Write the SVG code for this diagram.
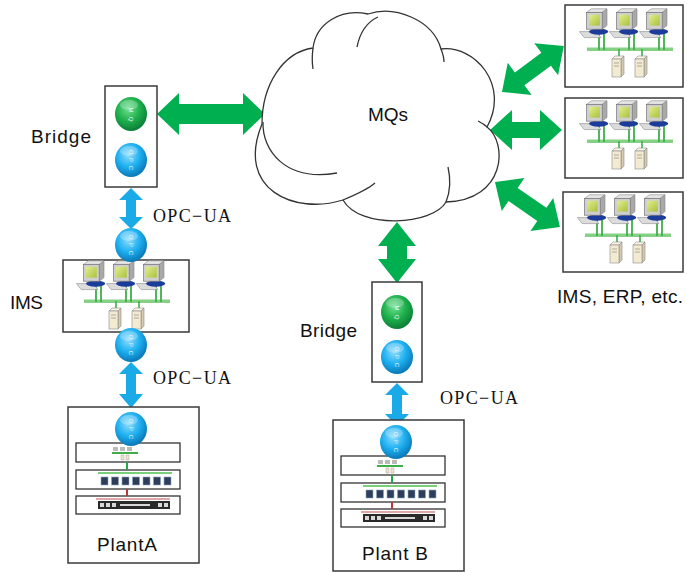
<svg xmlns="http://www.w3.org/2000/svg" width="687" height="572" viewBox="0 0 687 572">
<style>
  .box{fill:#fff;stroke:#3a3a3a;stroke-width:1.5}
  .inner{fill:#fff;stroke:#333;stroke-width:1.3}
  .lbl{font-family:"Liberation Sans",Arial,sans-serif;font-size:19px;fill:#111}
  .opc{font-family:"Liberation Serif","Times New Roman",serif;font-size:18px;fill:#111}
  .garrow{fill:#00b050}
  .barrow{fill:#1aaae8}
  .cloud{fill:#fff;stroke:#333;stroke-width:1.3}
  .cloudin{fill:none;stroke:#333;stroke-width:1.3}
  .tag{font-family:"Liberation Sans",Arial,sans-serif;font-size:6px;fill:#e6f6ff;text-anchor:middle}
</style>
<defs>
  <radialGradient id="gGreen" cx="0.42" cy="0.35" r="0.65">
    <stop offset="0" stop-color="#6fe08f"/>
    <stop offset="0.55" stop-color="#1fb04d"/>
    <stop offset="1" stop-color="#0b7f36"/>
  </radialGradient>
  <radialGradient id="gBlue" cx="0.42" cy="0.35" r="0.65">
    <stop offset="0" stop-color="#8fdcff"/>
    <stop offset="0.55" stop-color="#1eb0f0"/>
    <stop offset="1" stop-color="#0a78b8"/>
  </radialGradient>
  <linearGradient id="gScreen" x1="0" y1="0" x2="1" y2="1">
    <stop offset="0" stop-color="#e4ee8a"/>
    <stop offset="1" stop-color="#a9c040"/>
  </linearGradient>

  <!-- message-queue endpoint ball -->
  <g id="mqball">
    <ellipse rx="16" ry="17" fill="url(#gGreen)"/>
    <ellipse cx="-2" cy="-9" rx="9" ry="5" fill="#fff" opacity="0.25"/>
    <text class="tag" x="0" y="-2" transform="rotate(90 0 -4)">M</text>
    <text class="tag" x="0" y="7" transform="rotate(90 0 5)">Q</text>
  </g>
  <!-- OPC endpoint ball -->
  <g id="opcball">
    <ellipse rx="16" ry="17" fill="url(#gBlue)"/>
    <ellipse cx="-2" cy="-9" rx="9" ry="5" fill="#fff" opacity="0.25"/>
    <text class="tag" x="0" y="-6" transform="rotate(90 0 -8)">O</text>
    <text class="tag" x="0" y="2" transform="rotate(90 0 0)">P</text>
    <text class="tag" x="0" y="10" transform="rotate(90 0 8)">C</text>
  </g>

  <!-- desktop computer, origin at monitor centre -->
  <g id="pc">
    <line x1="4" y1="9" x2="4" y2="28" stroke="#3fae4a" stroke-width="1.8"/>
    <line x1="9" y1="9" x2="9" y2="28" stroke="#3fae4a" stroke-width="1.8"/>
    <g transform="scale(1.2)">
      <polygon points="-13,8 1,8 5,13 -9,13" fill="#dcdcdc" stroke="#8a8a8a" stroke-width="0.5"/>
      <ellipse cx="3" cy="8" rx="8" ry="2.6" fill="#1c3c9c"/>
      <polygon points="-7,-8 -3,-11 10,-11 6,-8" fill="#e6e6e6" stroke="#888" stroke-width="0.5"/>
      <polygon points="6,-8 10,-11 10,3 6,6" fill="#a9a9a9" stroke="#888" stroke-width="0.5"/>
      <rect x="-7" y="-8" width="13" height="14" fill="#cfcfcf" stroke="#777" stroke-width="0.6"/>
      <rect x="-5" y="-6" width="9" height="9" fill="url(#gScreen)"/>
    </g>
  </g>

  <!-- tower server, origin at top-left -->
  <g id="server">
    <polygon points="0,3 3,0 12,0 9,3" fill="#fbf6e6" stroke="#8a8a8a" stroke-width="0.6"/>
    <polygon points="9,3 12,0 12,18 9,21" fill="#d6cbb0" stroke="#8a8a8a" stroke-width="0.6"/>
    <rect x="0" y="3" width="9" height="18" fill="#f3ead2" stroke="#8a8a8a" stroke-width="0.6"/>
    <line x1="2" y1="7" x2="7" y2="7" stroke="#a09a88" stroke-width="0.8"/>
    <line x1="2" y1="10" x2="7" y2="10" stroke="#a09a88" stroke-width="0.8"/>
  </g>

  <!-- office LAN: three PCs and two servers on a bus, box-relative -->
  <g id="lan">
    <rect x="22" y="42.5" width="86" height="3.5" fill="#86d086"/>
    <line x1="54" y1="44" x2="54" y2="53" stroke="#3fae4a" stroke-width="1.6"/>
    <line x1="77" y1="44" x2="77" y2="53" stroke="#3fae4a" stroke-width="1.6"/>
    <use href="#pc" x="30" y="17"/>
    <use href="#pc" x="60" y="17"/>
    <use href="#pc" x="90" y="17"/>
    <use href="#server" x="47" y="51"/>
    <use href="#server" x="70" y="51"/>
  </g>

  <!-- plant floor: control, network and field levels, box-relative -->
  <g id="plant">
    <rect class="inner" x="8" y="36" width="104" height="19"/>
    <rect class="inner" x="8" y="63" width="104" height="19"/>
    <rect class="inner" x="8" y="89" width="104" height="18"/>
    <line x1="59" y1="55" x2="59" y2="63" stroke="#22a844" stroke-width="2"/>
    <line x1="59" y1="82" x2="59" y2="89" stroke="#b83a3a" stroke-width="2"/>
    <!-- small control PCs -->
    <rect x="44" y="45" width="26" height="2" fill="#3fae4a"/>
    <rect x="45" y="40" width="5" height="4" fill="#bbb"/>
    <rect x="52" y="40" width="5" height="4" fill="#bbb"/>
    <rect x="59" y="40" width="5" height="4" fill="#bbb"/>
    <rect x="53" y="48" width="3" height="5" fill="#eee3c8" stroke="#999" stroke-width="0.4"/>
    <rect x="58" y="48" width="3" height="5" fill="#eee3c8" stroke="#999" stroke-width="0.4"/>
    <!-- switch ports -->
    <line x1="30" y1="66" x2="104" y2="66" stroke="#4cc04c" stroke-width="1.5"/>
    <g fill="#2c3e5c" stroke="#8fa6c0" stroke-width="0.6">
      <rect x="33" y="70" width="7" height="8"/>
      <rect x="43.5" y="70" width="7" height="8"/>
      <rect x="54" y="70" width="7" height="8"/>
      <rect x="64.5" y="70" width="7" height="8"/>
      <rect x="75" y="70" width="7" height="8"/>
      <rect x="85.5" y="70" width="7" height="8"/>
      <rect x="96" y="70" width="7" height="8"/>
    </g>
    <!-- field device rack -->
    <line x1="28" y1="92" x2="102" y2="92" stroke="#c05050" stroke-width="1.2"/>
    <rect x="30" y="94" width="72" height="8" fill="#2a2a2a"/>
    <g fill="#d8d8d8">
      <rect x="32" y="96" width="4" height="4"/>
      <rect x="38" y="96" width="4" height="4"/>
      <rect x="44" y="96" width="4" height="4"/>
      <rect x="52" y="97" width="30" height="2"/>
      <rect x="90" y="96" width="4" height="4"/>
      <rect x="96" y="96" width="4" height="4"/>
    </g>
    <use href="#opcball" x="63" y="22"/>
  </g>
</defs>

<!-- connectors -->
<g id="connectors">
  <polygon class="garrow" points="157,114 179,93 179,104 243,104 243,93 265,114 243,135 243,124 179,124 179,135"/>
  <polygon class="garrow" points="397,222 416,246 407,246 407,259 416,259 397,283 378,259 387,259 387,246 378,246"/>
  <polygon class="garrow" transform="translate(502,92) rotate(-36.6)" points="0,0 22,-20 22,-8 55,-8 55,-20 77,0 55,20 55,8 22,8 22,20"/>
  <polygon class="garrow" points="490,130 512,110 512,122 540,122 540,110 562,130 540,150 540,138 512,138 512,150"/>
  <polygon class="garrow" transform="translate(495,182) rotate(34.7)" points="0,0 22,-20 22,-8 57,-8 57,-20 79,0 57,20 57,8 22,8 22,20"/>
  <polygon class="barrow" points="131,188 143,200 136,200 136,217 143,217 131,229 119,217 126,217 126,200 119,200"/>
  <polygon class="barrow" points="131,362 143,374 136,374 136,394 143,394 131,408 119,394 126,394 126,374 119,374"/>
  <polygon class="barrow" points="397,383 409,395 402,395 402,414 409,414 397,426 385,414 392,414 392,395 385,395"/>
</g>

<!-- message queue cloud -->
<g id="mqs">
  <path class="cloud" d="M 313,48 C 316,24 340,8 368,14 C 395,5 433,20 441,49 C 475,45 510,85 487,127 C 508,143 506,200 446,202 C 433,225 360,230 343,200 C 295,215 235,190 262,124 C 262,85 283,52 313,48 Z"/>
  <path class="cloudin" d="M 263,122 C 262,150 285,182 337,173"/>
  <path class="cloudin" d="M 343,200 C 355,195 367,190 375,183"/>
  <path class="cloudin" d="M 313,48 C 312,56 312,63 313,69"/>
  <path class="cloudin" d="M 357,47 C 360,32 367,22 378,17"/>
  <path class="cloudin" d="M 441,49 C 443,54 444,58 444,62"/>
  <path class="cloudin" d="M 478,121 C 482,123 485,125 487,127"/>
  <path class="cloudin" d="M 448,167 C 451,180 450,192 446,202"/>
  <text class="lbl" x="368" y="121" textLength="40">MQs</text>
</g>

<!-- left bridge -->
<g id="bridge-a">
  <rect class="box" x="105" y="86" width="52" height="101"/>
  <use href="#mqball" x="131" y="114"/>
  <use href="#opcball" x="131" y="160"/>
  <text class="lbl" x="31" y="143" textLength="60">Bridge</text>
</g>

<g id="opc-label-1"><text class="opc" x="153" y="222" textLength="78">OPC−UA</text></g>

<!-- IMS -->
<g id="ims">
  <rect class="box" x="63" y="260" width="126" height="72"/>
  <use href="#lan" x="62" y="257"/>
  <use href="#opcball" x="131" y="245"/>
  <use href="#opcball" x="131" y="345"/>
  <text class="lbl" x="10" y="309" textLength="33">IMS</text>
</g>

<g id="opc-label-2"><text class="opc" x="153" y="384" textLength="78">OPC−UA</text></g>

<!-- Plant A -->
<g id="plant-a">
  <rect class="box" x="68" y="407" width="131" height="156"/>
  <use href="#plant" x="68" y="407"/>
  <text class="lbl" x="97" y="551" textLength="60">PlantA</text>
</g>

<!-- right bridge -->
<g id="bridge-b">
  <rect class="box" x="372" y="282" width="50" height="100"/>
  <use href="#mqball" x="397" y="312"/>
  <use href="#opcball" x="397" y="357"/>
  <text class="lbl" x="300" y="337" textLength="57">Bridge</text>
</g>

<g id="opc-label-3"><text class="opc" x="440" y="404" textLength="78">OPC−UA</text></g>

<!-- Plant B -->
<g id="plant-b">
  <rect class="box" x="333" y="420" width="131" height="151"/>
  <use href="#plant" x="333" y="420"/>
  <text class="lbl" x="362" y="560" textLength="66">Plant B</text>
</g>

<!-- enterprise systems -->
<g id="ent-1">
  <rect class="box" x="565" y="5" width="118" height="82"/>
  <use href="#lan" x="565" y="5"/>
</g>
<g id="ent-2">
  <rect class="box" x="565" y="98" width="118" height="80"/>
  <use href="#lan" x="565" y="97"/>
</g>
<g id="ent-3">
  <rect class="box" x="563" y="192" width="120" height="80"/>
  <use href="#lan" x="563" y="191"/>
  <text class="lbl" x="557" y="303" textLength="126">IMS, ERP, etc.</text>
</g>
</svg>
